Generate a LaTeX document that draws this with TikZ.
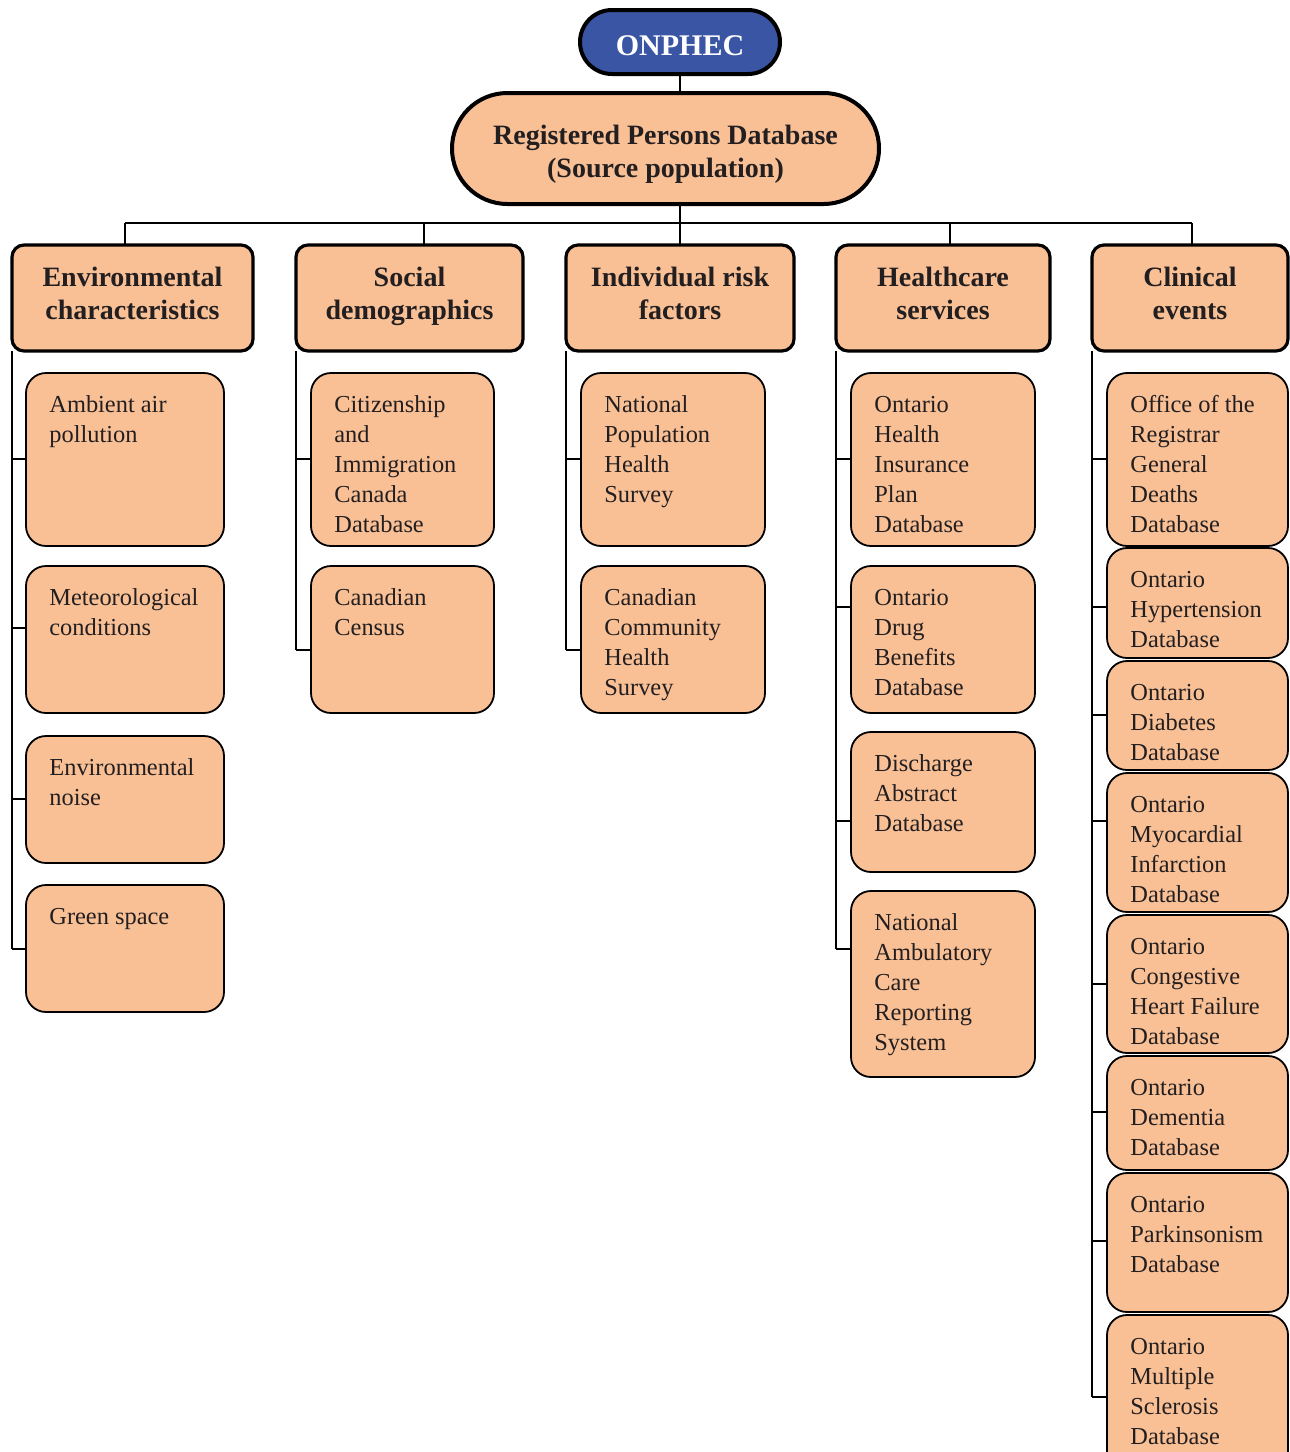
\documentclass[tikz,border=0pt]{standalone}
\usepackage{fontspec}
\setmainfont{Liberation Serif}
\definecolor{peach}{RGB}{249,192,150}
\definecolor{onblue}{RGB}{59,85,165}
\definecolor{ink}{RGB}{35,31,32}
\tikzset{
  pillbox/.style={draw=black, line width=2pt, inner sep=0pt, outer sep=0pt},
  headbox/.style={draw=black, fill=peach, line width=1.6pt, rounded corners=6pt, inner sep=0pt, outer sep=0pt, anchor=north west},
  listbox/.style={draw=black, fill=peach, line width=0.9pt, rounded corners=10pt, inner sep=0pt, outer sep=0pt, anchor=north west},
  headtext/.style={font=\fontsize{14}{16.5}\selectfont\bfseries, text=ink, inner sep=0pt, anchor=base},
  listtext/.style={font=\fontsize{12.2}{15}\selectfont, text=ink, inner sep=0pt, anchor=base west},
  link/.style={draw=black, line width=0.8pt},
}
\newcommand\myhead[6]{%
  \node[headbox, minimum width={0.5pt*(#4-#2)}, minimum height={0.5pt*(#5-#3)}] (#1) at (#2,#3) {};
  \node[headtext] (#1t) at ({(#2+#4)/2},286) {\parbox[t]{130pt}{\centering #6}};}
\newcommand\mylist[6]{%
  \node[listbox, minimum width={0.5pt*(#4-#2)}, minimum height={0.5pt*(#5-#3)}] (#1) at (#2,#3) {};
  \node[listtext] (#1t) at ({#2+23},{#3+39}) {\parbox[t]{95pt}{\raggedright #6}};}
\newcommand\mytick[3]{\draw[link] (#1.south west |- 0,#3) -- (#2.west |- 0,#3);}
\begin{document}
\begin{tikzpicture}[x=0.5pt,y=-0.5pt]
\useasboundingbox (0,0) rectangle (1290,1452);
\clip (0,0) rectangle (1290,1452);
\fill[white] (0,0) rectangle (1290,1452);

% top
\node[pillbox, fill=onblue, minimum width=100pt, minimum height=32pt, rounded corners=16pt,
      font=\fontsize{15}{18}\selectfont\bfseries, text=white, text height=13pt, text depth=0pt] (onphec) at (680,42) {ONPHEC};
\node[pillbox, fill=peach, minimum width=213.5pt, minimum height=55.5pt, rounded corners=27.7pt] (rpd) at (665.5,148.5) {};
\node[headtext] (rpdt) at (665.5,144) {\parbox[t]{210pt}{\centering Registered Persons Database\\(Source population)}};

% headings
\myhead{env}{12}{245}{253}{351}{Environmental\\characteristics}
\myhead{soc}{296}{245}{523}{351}{Social\\demographics}
\myhead{ind}{566}{245}{794}{351}{Individual risk\\factors}
\myhead{hc}{836}{245}{1050}{351}{Healthcare\\services}
\myhead{cl}{1092}{245}{1288}{351}{Clinical\\events}

% environmental
\mylist{e1}{26}{373}{224}{546}{Ambient air\\pollution}
\mylist{e2}{26}{566}{224}{713}{Meteorological\\conditions}
\mylist{e3}{26}{736}{224}{863}{Environmental\\noise}
\mylist{e4}{26}{885}{224}{1012}{Green space}
% social
\mylist{s1}{311}{373}{494}{546}{Citizenship\\and\\Immigration\\Canada\\Database}
\mylist{s2}{311}{566}{494}{713}{Canadian\\Census}
% individual
\mylist{i1}{581}{373}{765}{546}{National\\Population\\Health\\Survey}
\mylist{i2}{581}{566}{765}{713}{Canadian\\Community\\Health\\Survey}
% healthcare
\mylist{h1}{851}{373}{1035}{546}{Ontario\\Health\\Insurance\\Plan\\Database}
\mylist{h2}{851}{566}{1035}{713}{Ontario\\Drug\\Benefits\\Database}
\mylist{h3}{851}{732}{1035}{872}{Discharge\\Abstract\\Database}
\mylist{h4}{851}{891}{1035}{1077}{National\\Ambulatory\\Care\\Reporting\\System}
% clinical
\mylist{c1}{1107}{373}{1288}{546}{Office of the\\Registrar\\General\\Deaths\\Database}
\mylist{c2}{1107}{548}{1288}{658}{Ontario\\Hypertension\\Database}
\mylist{c3}{1107}{661}{1288}{770}{Ontario\\Diabetes\\Database}
\mylist{c4}{1107}{773}{1288}{912}{Ontario\\Myocardial\\Infarction\\Database}
\mylist{c5}{1107}{915}{1288}{1053}{Ontario\\Congestive\\Heart Failure\\Database}
\mylist{c6}{1107}{1056}{1288}{1170}{Ontario\\Dementia\\Database}
\mylist{c7}{1107}{1173}{1288}{1312}{Ontario\\Parkinsonism\\Database}
\mylist{c8}{1107}{1315}{1288}{1490}{Ontario\\Multiple\\Sclerosis\\Database}

% top connectors
\coordinate (b1) at (125,223);
\coordinate (b2) at (424,223);
\coordinate (b3) at (680,223);
\coordinate (b4) at (950,223);
\coordinate (b5) at (1192,223);
\draw[link] (onphec.south) -- (onphec.south |- rpd.north);
\draw[link] (onphec.south |- rpd.south) -- (b3);
\draw[link] (b1) -- (b5);
\draw[link] (b1) -- (b1 |- env.north);
\draw[link] (b2) -- (b2 |- soc.north);
\draw[link] (b3) -- (b3 |- ind.north);
\draw[link] (b4) -- (b4 |- hc.north);
\draw[link] (b5) -- (b5 |- cl.north);

% spines
\draw[link] (env.south west) -- (env.south west |- 0,949);
\draw[link] (soc.south west) -- (soc.south west |- 0,650);
\draw[link] (ind.south west) -- (ind.south west |- 0,650);
\draw[link] (hc.south west) -- (hc.south west |- 0,949);
\draw[link] (cl.south west) -- (cl.south west |- 0,1397);

% ticks
\mytick{env}{e1}{459}
\mytick{env}{e2}{628}
\mytick{env}{e3}{799}
\mytick{env}{e4}{949}
\mytick{soc}{s1}{459}
\mytick{soc}{s2}{650}
\mytick{ind}{i1}{459}
\mytick{ind}{i2}{650}
\mytick{hc}{h1}{459}
\mytick{hc}{h2}{607}
\mytick{hc}{h3}{821}
\mytick{hc}{h4}{949}
\mytick{cl}{c1}{459}
\mytick{cl}{c2}{607}
\mytick{cl}{c3}{715}
\mytick{cl}{c4}{821}
\mytick{cl}{c5}{984}
\mytick{cl}{c6}{1112}
\mytick{cl}{c7}{1241}
\mytick{cl}{c8}{1397}
\end{tikzpicture}
\end{document}
